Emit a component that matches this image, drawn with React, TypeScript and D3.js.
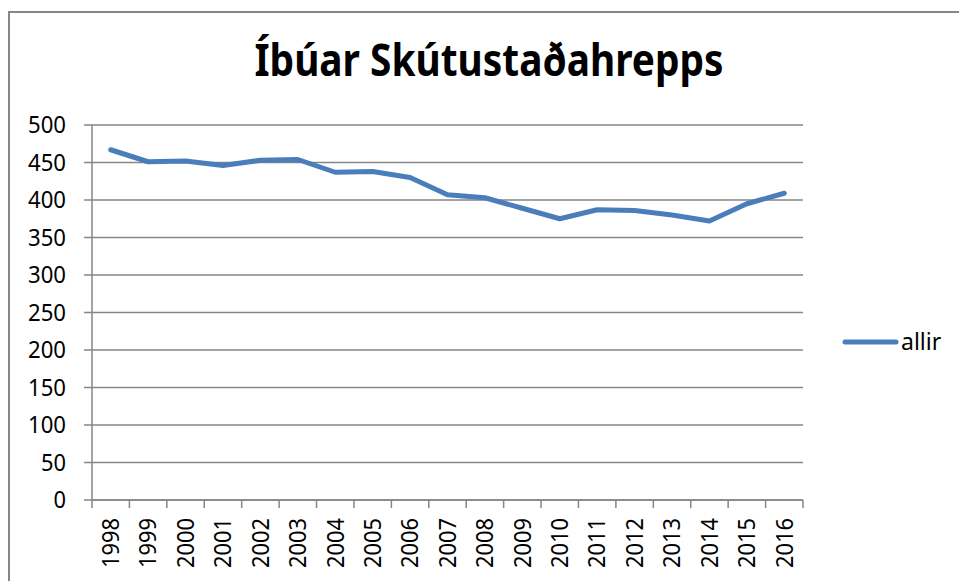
import React from "react";
import * as d3 from "d3";

const years = ["1998", "1999", "2000", "2001", "2002", "2003", "2004", "2005", "2006", "2007", "2008", "2009", "2010", "2011", "2012", "2013", "2014", "2015", "2016"];
const allir = [467, 451, 452, 446, 453, 454, 437, 438, 430, 407, 403, 389, 375, 387, 386, 380, 372, 395, 409];
const yTicks = [0, 50, 100, 150, 200, 250, 300, 350, 400, 450, 500];
const seriesName = "allir";
const title = "Íbúar Skútustaðahrepps";

const width = 959;
const height = 581;
const plot = { left: 92, right: 803, top: 125, bottom: 500 }; // plot area in px
const grid = "#868686";
const blue = "#4A7EBB";
const font = "'Noto Sans', 'Open Sans', sans-serif";

const App = () => {
  const x = d3.scaleBand().domain(years).range([plot.left, plot.right]);
  const y = d3.scaleLinear().domain([0, 500]).range([plot.bottom, plot.top]);

  const line = d3
    .line<number>()
    .x((d, i) => (x(years[i]) as number) + x.bandwidth() / 2)
    .y((d) => y(d));

  // tick positions on the category axis sit on the band boundaries
  const xTickPos = years.map((yr) => x(yr) as number).concat([plot.right]);

  return (
    <svg
      width={width}
      height={height}
      style={{ position: "absolute", left: 0, top: 0, background: "#fff" }}
    >
      {/* chart border, runs past the right and bottom edges */}
      <rect x={9} y={12} width={1000} height={700} fill="none" stroke={grid} strokeWidth={2} />

      <text
        x={489}
        y={76}
        textAnchor="middle"
        fontFamily={font}
        fontWeight="bold"
        fontSize={44}
        textLength={469}
        lengthAdjust="spacingAndGlyphs"
        fill="#000"
      >
        {title}
      </text>

      {/* gridlines + y ticks */}
      {yTicks.map((t) => (
        <g key={t}>
          <line x1={plot.left - 8} x2={plot.right} y1={y(t)} y2={y(t)} stroke={grid} strokeWidth={1.5} />
          <text
            x={66}
            y={y(t)}
            dy="0.36em"
            textAnchor="end"
            fontFamily={font}
            fontSize={23}
            textLength={t >= 100 ? 38 : t >= 10 ? 25 : 12.5}
            lengthAdjust="spacingAndGlyphs"
            fill="#000"
          >
            {t}
          </text>
        </g>
      ))}

      {/* axes */}
      <line x1={plot.left} x2={plot.left} y1={plot.top} y2={plot.bottom} stroke={grid} strokeWidth={1.5} />
      <line x1={plot.left} x2={plot.right} y1={plot.bottom} y2={plot.bottom} stroke={grid} strokeWidth={1.5} />
      {xTickPos.map((p, i) => (
        <line key={i} x1={p} x2={p} y1={plot.bottom} y2={plot.bottom + 8} stroke={grid} strokeWidth={1.5} />
      ))}
      {years.map((yr) => {
        const cx = (x(yr) as number) + x.bandwidth() / 2;
        return (
          <text
            key={yr}
            transform={`translate(${cx},518) rotate(-90)`}
            dy="0.36em"
            textAnchor="end"
            fontFamily={font}
            fontSize={23}
            textLength={50}
            lengthAdjust="spacingAndGlyphs"
            fill="#000"
          >
            {yr}
          </text>
        );
      })}

      <path
        d={line(allir) || ""}
        fill="none"
        stroke={blue}
        strokeWidth={5}
        strokeLinejoin="round"
        strokeLinecap="round"
      />

      {/* legend */}
      <line x1={845} x2={896} y1={342} y2={342} stroke={blue} strokeWidth={5} strokeLinecap="round" />
      <text x={901} y={342} dy="0.36em" fontFamily={font} fontSize={23} fill="#000">
        {seriesName}
      </text>
    </svg>
  );
};

export default App;
